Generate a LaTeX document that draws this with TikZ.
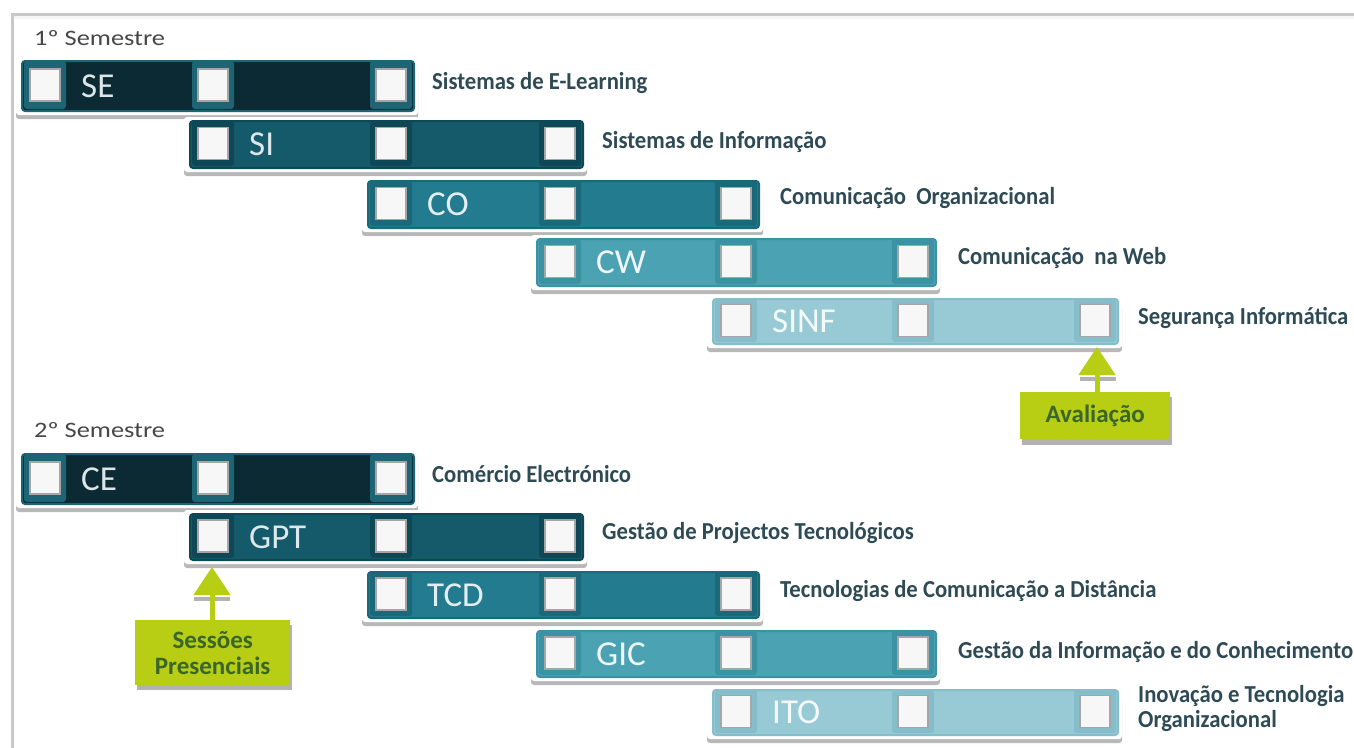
\documentclass[tikz,border=0pt]{standalone}
\usepackage{fontspec}
\setmainfont{Carlito}
\newfontfamily\semfont[FakeStretch=1.2]{Carlito}
\newfontfamily\descfont[FakeStretch=0.93]{Carlito}
\usetikzlibrary{arrows.meta}
\definecolor{c1}{HTML}{0B2A33}\definecolor{b1}{HTML}{1D6474}
\definecolor{c2}{HTML}{155A6A}\definecolor{b2}{HTML}{0E4756}
\definecolor{c3}{HTML}{237B8F}\definecolor{b3}{HTML}{1A687A}
\definecolor{c4}{HTML}{4BA2B3}\definecolor{b4}{HTML}{3A92A4}
\definecolor{c5}{HTML}{98CAD6}\definecolor{b5}{HTML}{85BDCB}
\definecolor{t1}{HTML}{DCE6E8}\definecolor{t2}{HTML}{DCE8EC}
\definecolor{t3}{HTML}{E2EEF2}\definecolor{t4}{HTML}{EEF6F8}
\definecolor{t5}{HTML}{F4FAFB}
\definecolor{desccol}{HTML}{2E4A55}
\definecolor{limec}{HTML}{B7CE14}
\definecolor{limetext}{HTML}{3A662A}
\definecolor{framec}{HTML}{C8C8C8}
\tikzset{
  desc/.style={anchor=west, text=desccol, inner sep=0pt,
    font=\descfont\bfseries\fontsize{24.4}{25}\selectfont, align=left},
  semlabel/.style={anchor=west, text=black!72, inner sep=0pt,
    font=\semfont\fontsize{22}{22}\selectfont},
  abbr/.style={anchor=west, inner sep=0pt, font=\fontsize{35}{35}\selectfont},
  callout/.style={fill=limec, text=limetext, inner sep=0pt, anchor=north west,
    font=\bfseries\fontsize{25}{26}\selectfont, align=center},
  pointer/.style={limec, line width=5pt, -{Triangle[width=36pt,length=28pt]}}
}
% #1 name, #2 level, #3 top, #4 height, #5 #6 #7 square centres, #8 abbreviation
\newcommand\coursebar[8]{%
  \fill[black!28, rounded corners=3pt] ({#5-29},{#3+8}) rectangle ({#7+27},{#3+#4+9});
  \fill[white, rounded corners=3pt] ({#5-29},{#3-3}) rectangle ({#7+27},{#3+#4+5});
  \node[draw=b#2, line width=2pt, fill=c#2, rounded corners=3pt, inner sep=0pt,
        minimum width={#7-#5+46}, minimum height=#4, anchor=north west] (#1) at ({#5-24},#3) {};
  \foreach \cx in {#5,#6,#7}{
    \fill[b#2, rounded corners=3pt] ({\cx-21},{#3+1}) rectangle ({\cx+21},{#3+#4-1});
    \draw[fill=white!97!black, draw=black!35, line width=1.6pt]
      ({\cx-15},{#3+#4/2-16}) rectangle ({\cx+15},{#3+#4/2+16});
  }
  \node[abbr, text=t#2] (#1t) at ({#5+36},{#3+#4/2+1}) {#8};
}
\begin{document}
\begin{tikzpicture}[x=1pt,y=-1pt]
\useasboundingbox (0,0) rectangle (1354,747);
\fill[white] (0,0) rectangle (1354,747);
% frame
\draw[framec, line width=3pt] (12,748) -- (12,14) -- (1355,14);
\fill[black!4] (13.5,15.5) rectangle (1354,30);
\fill[white] (13.5,19) rectangle (1354,747);

% 1st semester
\node[semlabel] (sem1) at (34,38) {1º Semestre};
\coursebar{SE}{1}{60}{50}{45}{213}{391}{SE}
\coursebar{SI}{2}{120}{47}{213}{391}{560}{SI}
\coursebar{CO}{3}{180}{47}{391}{560}{736}{CO}
\coursebar{CW}{4}{238}{47}{560}{736}{913}{CW}
\coursebar{SINF}{5}{298}{45}{736}{913}{1095}{SINF}
\node[desc] (SEd) at (432,83) {Sistemas de E-Learning};
\node[desc] (SId) at (602,142) {Sistemas de Informação};
\node[desc] (COd) at (780,198) {Comunicação~ Organizacional};
\node[desc] (CWd) at (958,258) {Comunicação~ na Web};
\node[desc] (SINFd) at (1138,318) {Segurança Informática};

% Avaliação
\fill[black!30] (1022,397) rectangle (1172,445);
\node[callout, minimum width=150, minimum height=47] (aval) at (1020,392) {Avaliação};
\coordinate (avtip) at (1097,347);
\fill[black!30] (1080,377) rectangle (1116,381);
\draw[pointer] (aval.north -| avtip) -- (avtip);

% 2nd semester
\node[semlabel] (sem2) at (34,430) {2º Semestre};
\coursebar{CE}{1}{453}{50}{45}{213}{391}{CE}
\coursebar{GPT}{2}{513}{46}{213}{391}{560}{GPT}
\coursebar{TCD}{3}{571}{46}{391}{560}{736}{TCD}
\coursebar{GIC}{4}{630}{46}{560}{736}{913}{GIC}
\coursebar{ITO}{5}{689}{45}{736}{913}{1095}{ITO}
\node[desc] (CEd) at (432,474) {Comércio Electrónico};
\node[desc] (GPTd) at (602,533) {Gestão de Projectos Tecnológicos};
\node[desc] (TCDd) at (780,591) {Tecnologias de Comunicação a Distância};
\node[desc] (GICd) at (958,652) {Gestão da Informação e do Conhecimento};
\node[desc] (ITOd) at (1138,708) {Inovação e Tecnologia\\Organizacional};

% Sessões Presenciais
\fill[black!30] (137,625) rectangle (292,690);
\node[callout, minimum width=155, minimum height=65] (sess) at (135,620) {Sessões\\Presenciais};
\coordinate (sesstip) at (212,567);
\fill[black!30] (194,597) rectangle (230,601);
\draw[pointer] (sess.north -| sesstip) -- (sesstip);
\end{tikzpicture}
\end{document}
